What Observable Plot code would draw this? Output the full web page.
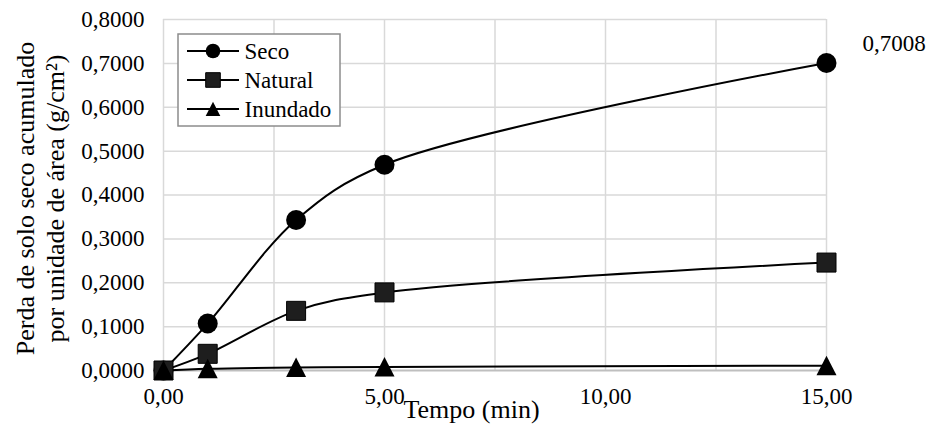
<!DOCTYPE html>
<html><head><meta charset="utf-8">
<script src="https://cdn.jsdelivr.net/npm/d3@7"></script>
<script src="https://cdn.jsdelivr.net/npm/@observablehq/plot@0.6"></script>
<style>
body{margin:0;background:#fff}
#chart svg{display:block}
#chart svg text{font-family:"Liberation Serif","Times New Roman",serif !important;}
</style>
</head><body><div id="chart"></div>
<script>
// ---- data ----
const seriesNames = ["Seco", "Natural", "Inundado"];
const tempo = [0, 1, 3, 5, 15];
const seco = [0, 0.107, 0.343, 0.469, 0.7008];
const natural = [0, 0.038, 0.136, 0.178, 0.246];
const inundado = [0, 0.004, 0.007, 0.008, 0.011];
const xTicks = [0, 5, 10, 15];
const xGrid = [0, 2.5, 5, 7.5, 10, 12.5, 15];
const yTicks = [0, 0.1, 0.2, 0.3, 0.4, 0.5, 0.6, 0.7, 0.8];
const yGrid = [0.1, 0.2, 0.3, 0.4, 0.5, 0.6, 0.7, 0.8];
const xTitle = "Tempo (min)";
const yTitle = ["Perda de solo seco acumulado", "por unidade de área (g/cm²)"];
const labelled = {serie: "Seco", index: 4};

const FONT = "Liberation Serif";
const values = [seco, natural, inundado];
const rows = seriesNames.flatMap((s, i) => tempo.map((t, j) => ({serie: s, t, v: values[i][j]})));

const fmtY = d => d3.format(".4f")(d).replace(".", ",");
const fmtX = d => d3.format(".2f")(d).replace(".", ",");

// custom symbols drawn in a box of half-size r
const rOf = size => Math.sqrt(size / Math.PI);
const circleSym = {draw(ctx, size) { const r = rOf(size); ctx.moveTo(r, 0); ctx.arc(0, 0, r, 0, 2 * Math.PI); }};
const squareSym = {draw(ctx, size) { const r = rOf(size); ctx.rect(-r, -r, 2 * r, 2 * r); }};
const triSym = {draw(ctx, size) { const r = rOf(size); ctx.moveTo(0, -r); ctx.lineTo(r, r * 0.95); ctx.lineTo(-r, r * 0.95); ctx.closePath(); }};
const symbols = {Seco: circleSym, Natural: squareSym, Inundado: triSym};
const fills = {Seco: "#000", Natural: "#1e1e1e", Inundado: "#000"};

const txt = {fontFamily: FONT, fill: "#000"};

const chart = Plot.plot({
  width: 934, height: 425,
  marginLeft: 163, marginRight: 108, marginTop: 19, marginBottom: 55,
  style: {background: "#fff", overflow: "visible", fontFamily: FONT},
  x: {domain: [0, 15], axis: null},
  y: {domain: [0, 0.8], axis: null},
  marks: [
    Plot.ruleX(xGrid, {stroke: "#d9d9d9", strokeWidth: 1.5}),
    Plot.ruleY(yGrid, {stroke: "#d9d9d9", strokeWidth: 1.5}),
    Plot.ruleY([0], {stroke: "#bfbfbf", strokeWidth: 2}),
    // tick labels
    Plot.text(xTicks, {...txt, x: d => d, frameAnchor: "bottom", text: fmtX, textAnchor: "middle", lineAnchor: "top", dy: 17, fontSize: 23}),
    Plot.text(yTicks, {...txt, y: d => d, frameAnchor: "left", text: fmtY, textAnchor: "end", lineAnchor: "middle", dx: -19, fontSize: 23}),
    // axis titles
    Plot.text([xTitle], {...txt, frameAnchor: "bottom", text: d => d, textAnchor: "middle", lineAnchor: "middle", dx: -23.5, dy: 39.5, fontSize: 26}),
    ...yTitle.map((t, i) => Plot.text([t], {...txt, frameAnchor: "left", text: d => d, rotate: -90,
      textAnchor: "middle", lineAnchor: "middle", dx: -138 + i * 30, dy: 3.5, fontSize: 26})),
    // series
    Plot.line(rows, {x: "t", y: "v", z: "serie", curve: "catmull-rom", stroke: "#000", strokeWidth: 2}),
    ...seriesNames.map(s => Plot.dot(rows.filter(d => d.serie === s), {
      x: "t", y: "v", r: s === "Natural" ? 9.5 : 10, symbol: symbols[s], fill: fills[s],
      stroke: s === "Natural" ? "#000" : "none", strokeWidth: 1
    })),
    Plot.text(rows.filter(d => d.serie === labelled.serie && d.t === tempo[labelled.index]), {
      ...txt, x: "t", y: "v", text: d => fmtY(d.v), textAnchor: "start", lineAnchor: "middle", dx: 36, dy: -19.5, fontSize: 23
    }),
    // legend labels
    ...seriesNames.map((s, i) => Plot.text([s], {...txt, frameAnchor: "top-left", text: d => d,
      textAnchor: "start", lineAnchor: "middle", dx: 81, dy: 32 + i * 29, fontSize: 23}))
  ]
});
document.getElementById("chart").appendChild(chart);

// legend box and keys
const svg = d3.select(chart);
const lg = svg.append("g");
lg.append("rect").attr("x", 178).attr("y", 34).attr("width", 162).attr("height", 92)
  .attr("fill", "#fff").attr("stroke", "#8c8c8c").attr("stroke-width", 1.5);
seriesNames.forEach((s, i) => {
  const cy = 51 + i * 29;
  lg.append("line").attr("x1", 187).attr("x2", 239).attr("y1", cy).attr("y2", cy)
    .attr("stroke", "#000").attr("stroke-width", 2);
  lg.append("path").attr("transform", `translate(213,${cy})`)
    .attr("d", d3.symbol(symbols[s], Math.PI * 7.3 * 7.3)())
    .attr("fill", fills[s]).attr("stroke", s === "Natural" ? "#000" : "none");
});
// keep legend labels above the legend box
svg.selectAll("text").filter(function() { return seriesNames.includes(this.textContent); })
  .each(function() { d3.select(this.parentNode).raise(); });
</script>
</body></html>
